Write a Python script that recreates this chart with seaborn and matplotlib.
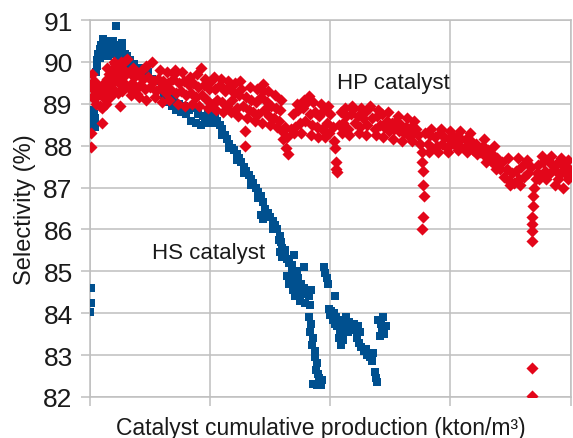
import matplotlib
matplotlib.use("Agg")
import matplotlib.pyplot as plt
import pandas as pd
import seaborn as sns

# HS catalyst (blue squares), x in grid units of cumulative production
hs_x = [0.00, 0.01, 0.01, 0.02, 0.02, 0.03, 0.03, 0.04, 0.04,
        0.05, 0.06, 0.06, 0.07, 0.08, 0.08, 0.09, 0.10, 0.11, 0.12, 0.13,
        0.14, 0.15, 0.16, 0.17, 0.18, 0.19, 0.20, 0.21, 0.22, 0.23, 0.24,
        0.25, 0.26, 0.27, 0.28, 0.29, 0.30, 0.31, 0.32, 0.33, 0.35, 0.37,
        0.39, 0.42, 0.45, 0.48, 0.52, 0.56, 0.60, 0.62, 0.64, 0.66, 0.68,
        0.70, 0.72, 0.74, 0.76, 0.78, 0.80, 0.82, 0.84, 0.86, 0.88, 0.90,
        0.92, 0.94, 0.96, 0.98, 1.00, 1.02, 1.04, 1.06, 1.08, 1.10, 1.12,
        1.14, 1.16, 1.18, 1.20, 1.22, 1.24, 1.26, 1.28, 1.30, 1.32, 1.34,
        1.36, 1.38, 1.40, 1.42, 1.44, 1.46, 1.48, 1.42, 1.44, 1.50, 1.52,
        1.54, 1.56, 1.58, 1.59, 1.60, 1.58, 1.62, 1.60, 1.62, 1.64, 1.66,
        1.68, 1.70, 1.72, 1.78, 1.64, 1.66, 1.68, 1.69, 1.70, 1.71, 1.72,
        1.73, 1.74, 1.75, 1.76, 1.77, 1.78, 1.79, 1.80, 1.82, 1.83, 1.84,
        1.82, 1.84, 1.83, 1.86, 1.85, 1.87, 1.87, 1.89, 1.88, 1.90, 1.91,
        1.93, 1.86, 1.89, 1.92, 1.95, 1.96, 1.97, 1.98, 2.04, 1.99, 2.00,
        2.01, 2.02, 2.03, 2.04, 2.05, 2.06, 2.07, 2.08, 2.09, 2.10, 2.10,
        2.12, 2.13, 2.14, 2.15, 2.16, 2.18, 2.20, 2.21, 2.23, 2.25, 2.07,
        2.09, 2.11, 2.22, 2.24, 2.26, 2.28, 2.30, 2.31, 2.33, 2.35, 2.36,
        2.37, 2.38, 2.39, 2.40, 2.42, 2.44, 2.43, 2.45, 2.46, 2.41,
        # second column of the falling stretch
        1.10, 1.16, 1.22, 1.28, 1.34, 1.40, 1.46, 1.52, 1.57, 0.11, 0.15,
        0.19, 0.23, 0.27]
hs_y = [84.02, 84.25, 84.60, 88.85, 88.60, 88.75, 88.50, 88.65, 88.45,
        89.75, 89.90, 90.05, 90.20, 90.10, 90.30, 90.40, 90.25, 90.45, 90.35, 90.20,
        90.30, 90.15, 90.35, 90.25, 90.40, 90.20, 90.30, 90.40, 90.85, 90.35, 90.20,
        90.30, 90.15, 90.30, 90.10, 90.20, 90.05, 90.15, 89.95, 90.05, 89.90, 89.95,
        89.80, 89.85, 89.70, 89.75, 89.60, 89.55, 89.40, 89.20, 89.05, 89.15, 88.95,
        89.10, 88.85, 89.00, 88.80, 88.95, 88.75, 88.85, 88.60, 88.90, 88.55, 88.75,
        88.50, 88.70, 88.55, 88.80, 88.65, 88.55, 88.75, 88.60, 88.50, 88.40, 88.25,
        88.15, 88.05, 87.95, 87.90, 87.80, 87.70, 87.60, 87.50, 87.40, 87.30, 87.20,
        87.10, 87.00, 86.90, 86.80, 86.65, 86.50, 86.40, 86.35, 86.25, 86.30, 86.20,
        86.10, 86.00, 85.85, 85.70, 85.55, 85.45, 85.40, 85.35, 85.50, 85.30, 85.20,
        85.15, 85.40, 85.00, 85.10, 84.90, 84.70, 84.95, 84.55, 84.80, 84.40, 84.65,
        84.85, 84.50, 84.30, 84.70, 84.45, 84.60, 84.25, 84.50, 84.40, 84.20, 84.55,
        83.90, 83.75, 83.55, 83.40, 83.25, 83.10, 82.95, 82.80, 82.65, 82.55, 82.45,
        82.40, 82.30, 82.28, 82.28, 85.10, 84.95, 84.85, 84.70, 84.40, 84.10, 83.95,
        84.05, 83.85, 84.00, 83.75, 83.90, 83.70, 83.85, 83.60, 83.75, 83.50, 83.85,
        83.65, 83.90, 83.70, 83.55, 83.80, 83.60, 83.75, 83.60, 83.70, 83.55, 83.40,
        83.25, 83.35, 83.40, 83.30, 83.20, 83.10, 83.15, 83.00, 82.95, 82.85, 83.05,
        82.60, 82.45, 82.35, 83.85, 83.75, 83.90, 83.60, 83.50, 83.70, 83.45,
        88.25, 87.95, 87.65, 87.35, 87.05, 86.75, 86.35, 86.00, 85.75, 90.55, 90.50,
        90.50, 90.05, 90.45]

# HP catalyst (red diamonds)
hp_x = [0.00, 0.01, 0.01, 0.02, 0.02, 0.03, 0.04, 0.05, 0.06, 0.07, 0.08, 0.09,
        0.10, 0.10, 0.11, 0.12, 0.13, 0.14, 0.15, 0.16, 0.17, 0.18, 0.19, 0.20,
        0.21, 0.22, 0.23, 0.23, 0.24, 0.25, 0.25, 0.26, 0.27, 0.28, 0.29, 0.30,
        0.31, 0.32, 0.34, 0.35, 0.37, 0.38, 0.39, 0.40, 0.42, 0.44, 0.46, 0.48,
        0.50, 0.52, 0.53, 0.55, 0.57, 0.59, 0.61, 0.63, 0.65, 0.67, 0.69, 0.71,
        0.72, 0.74, 0.76, 0.78, 0.80, 0.82, 0.84, 0.86, 0.88, 0.90, 0.92, 0.93,
        0.95, 0.97, 0.99, 1.01, 1.02, 1.04, 1.06, 1.08, 1.10, 1.12, 1.14, 1.16,
        1.18, 1.20, 1.22, 1.24, 1.26, 1.27, 1.29, 1.29, 1.30, 1.32, 1.34, 1.36,
        1.38, 1.40, 1.42, 1.44, 1.44, 1.45, 1.47, 1.49, 1.51, 1.53, 1.55, 1.57,
        1.58, 1.60, 1.61, 1.62, 1.63, 1.64, 1.65, 1.67, 1.69, 1.71, 1.73, 1.75,
        1.77, 1.79, 1.81, 1.82, 1.83, 1.85, 1.87, 1.89, 1.91, 1.93, 1.95, 1.97,
        1.99, 2.00, 2.02, 2.03, 2.04, 2.05, 2.05, 2.06, 2.07, 2.09, 2.11, 2.13,
        2.15, 2.17, 2.19, 2.21, 2.23, 2.25, 2.27, 2.29, 2.31, 2.33, 2.35, 2.37,
        2.39, 2.41, 2.43, 2.45, 2.47, 2.49, 2.51, 2.53, 2.55, 2.57, 2.59, 2.61,
        2.63, 2.65, 2.67, 2.69, 2.71, 2.73, 2.75, 2.76, 2.76, 2.77, 2.77, 2.78,
        2.77, 2.76, 2.79, 2.81, 2.83, 2.85, 2.87, 2.89, 2.91, 2.93, 2.95, 2.97,
        2.99, 3.01, 3.03, 3.05, 3.07, 3.09, 3.11, 3.13, 3.15, 3.17, 3.19, 3.21,
        3.23, 3.25, 3.27, 3.29, 3.31, 3.33, 3.35, 3.37, 3.39, 3.41, 3.43, 3.45,
        3.47, 3.49, 3.51, 3.53, 3.55, 3.57, 3.59, 3.61, 3.63, 3.65, 3.67, 3.71,
        3.70, 3.69, 3.69, 3.68, 3.68, 3.68, 3.68, 3.68, 3.68, 3.72, 3.73, 3.75,
        3.77, 3.79, 3.81, 3.83, 3.85, 3.87, 3.88, 3.90, 3.92, 3.94, 3.95, 3.97,
        3.99, 4.00,
        # upper and lower edges of the band
        0.14, 0.20, 0.28, 0.13, 0.17, 0.21, 0.27,
        0.36, 0.43, 0.47, 0.58, 0.64, 0.70, 0.77, 0.83, 0.89, 0.96,
        0.34, 0.41, 0.47, 0.54, 0.60, 0.66, 0.73, 0.79, 0.85, 0.91, 0.98,
        1.03, 1.09, 1.15, 1.21, 1.25, 1.33, 1.39, 1.48, 1.54, 1.59,
        1.05, 1.11, 1.17, 1.23, 1.31, 1.37, 1.43, 1.50, 1.56,
        1.72, 1.78, 1.86, 1.92, 1.98, 1.70, 1.76, 1.84, 1.90, 1.96,
        2.12, 2.18, 2.26, 2.32, 2.40, 2.48, 2.56, 2.64, 2.70,
        2.10, 2.16, 2.24, 2.30, 2.38, 2.44, 2.52, 2.60, 2.68,
        2.84, 2.92, 3.00, 3.08, 3.16, 2.82, 2.90, 2.98, 3.06, 3.14, 3.22,
        3.28, 3.36, 3.30, 3.38, 3.48, 3.56, 3.64, 3.50, 3.58,
        3.76, 3.84, 3.92, 3.98, 3.74, 3.80, 3.90, 3.98]
hp_y = [89.45, 88.30, 87.97, 89.70, 89.15, 89.55, 89.30, 89.00, 89.45, 89.20, 88.95, 89.35,
        88.90, 88.55, 89.15, 89.50, 89.25, 89.60, 89.35, 89.70, 89.45, 89.80, 89.55, 89.75,
        89.95, 89.60, 89.25, 89.85, 89.50, 88.95, 89.75, 90.00, 89.55, 89.80, 89.45, 89.70,
        90.07, 89.40, 89.75, 89.50, 89.65, 89.35, 89.23, 89.70, 89.45, 89.60, 89.35, 89.65,
        89.40, 90.00, 89.55, 89.30, 89.60, 89.40, 89.55, 89.25, 89.50, 89.35, 89.60, 89.80,
        89.25, 89.50, 89.30, 89.55, 89.20, 89.45, 89.25, 89.50, 89.15, 89.40, 89.86, 89.20,
        89.45, 89.10, 89.35, 89.55, 89.00, 89.35, 89.10, 89.45, 89.05, 89.30, 88.95, 89.40,
        89.10, 89.25, 88.90, 89.20, 89.35, 88.95, 88.35, 88.00, 89.15, 88.85, 89.10, 88.80,
        89.05, 88.75, 89.15, 89.47, 89.30, 88.85, 89.05, 88.70, 88.95, 88.65, 88.90, 88.60,
        88.85, 88.35, 88.15, 88.45, 87.95, 88.20, 87.80, 88.40, 88.75, 88.45, 88.85, 88.55,
        88.90, 88.60, 89.05, 89.19, 88.75, 88.50, 88.80, 88.45, 88.70, 88.40, 88.85, 88.55,
        88.30, 88.75, 88.45, 88.10, 87.95, 87.60, 87.45, 87.38, 88.50, 88.80, 88.55, 88.70,
        88.40, 88.75, 88.88, 88.55, 88.70, 88.45, 88.65, 88.80, 88.50, 88.95, 88.65, 88.40,
        88.70, 88.50, 88.75, 88.45, 88.60, 88.35, 88.55, 88.40, 88.60, 88.35, 88.50, 88.30,
        88.45, 88.25, 88.45, 88.30, 88.40, 88.25, 88.05, 87.85, 87.60, 87.40, 87.05, 86.80,
        86.30, 86.00, 88.30, 88.05, 88.25, 87.95, 88.20, 88.00, 88.30, 88.05, 88.20, 87.95,
        88.15, 88.25, 88.05, 88.20, 88.00, 88.15, 87.95, 88.15, 88.00, 88.10, 87.90, 88.05,
        87.95, 87.85, 88.00, 87.75, 87.90, 87.65, 87.80, 87.55, 87.70, 87.45, 87.60, 87.25,
        87.45, 87.15, 87.35, 87.10, 87.40, 87.20, 87.50, 87.25, 87.60, 87.35, 87.50, 87.20,
        87.00, 86.80, 86.56, 86.30, 86.13, 85.96, 85.73, 82.70, 82.03, 87.35, 87.55, 87.30,
        87.60, 87.40, 87.65, 87.35, 87.55, 87.05, 87.40, 87.60, 87.35, 87.00, 87.50, 87.30,
        87.45, 87.40,
        89.85, 90.00, 90.00, 89.00, 89.15, 89.30, 89.30,
        89.85, 89.80, 89.90, 89.80, 89.75, 89.70, 89.75, 89.65, 89.70, 89.60,
        89.20, 89.15, 89.10, 89.15, 89.05, 89.10, 89.00, 88.95, 89.00, 88.95, 88.90,
        89.65, 89.60, 89.55, 89.50, 89.55, 89.40, 89.35, 89.30, 89.20, 89.10,
        88.85, 88.80, 88.80, 88.70, 88.65, 88.60, 88.55, 88.50, 88.45,
        89.00, 89.10, 89.05, 89.00, 88.95, 88.30, 88.30, 88.25, 88.20, 88.20,
        88.90, 88.95, 88.90, 88.90, 88.85, 88.80, 88.70, 88.65, 88.60,
        88.30, 88.25, 88.30, 88.25, 88.25, 88.20, 88.15, 88.10, 88.10,
        88.40, 88.40, 88.35, 88.35, 88.30, 87.85, 87.85, 87.85, 87.90, 87.85, 87.80,
        88.15, 88.00, 87.60, 87.45, 87.70, 87.70, 87.65, 87.05, 87.05,
        87.75, 87.75, 87.70, 87.65, 87.20, 87.20, 87.20, 87.20]

y_ticks = [82, 83, 84, 85, 86, 87, 88, 89, 90, 91]
x_grid = [0, 1, 2, 3, 4]

BLUE = "#00508F"
RED = "#E3061A"
GRID = "#BFBFBF"
INK = "#1a1a1a"

hs = pd.DataFrame({"x": hs_x, "y": hs_y})
hp = pd.DataFrame({"x": hp_x, "y": hp_y})

sns.set_theme(style="white")
plt.rcParams["font.family"] = ["Liberation Sans", "DejaVu Sans"]

fig = plt.figure(figsize=(5.73, 4.39), dpi=100)
ax = fig.add_axes([90 / 573, 41 / 439, 480.5 / 573, 377 / 439])

sns.scatterplot(data=hs, x="x", y="y", marker="s", s=34, color=BLUE,
                linewidth=0, ax=ax, zorder=3)
sns.scatterplot(data=hp, x="x", y="y", marker="D", s=38, color=RED,
                linewidth=0, ax=ax, zorder=4)

ax.set_xlim(0, 4)
ax.set_ylim(82, 91)
ax.set_xticks(x_grid)
ax.set_xticklabels([])
ax.set_yticks(y_ticks)
ax.grid(True, color=GRID, linewidth=1.1)
ax.set_axisbelow(True)
for sp in ax.spines.values():
    sp.set_color(GRID)
    sp.set_linewidth(1.1)
ax.tick_params(axis="both", which="major", left=True, bottom=True,
               direction="out", length=6.5, width=1.1, color=GRID,
               labelsize=19, pad=6, labelcolor=INK)

ax.set_xlabel("Catalyst cumulative production (kton/m³)", fontsize=16.5, color=INK)
ax.xaxis.set_label_coords(0.481, -0.05)
ax.set_ylabel("Selectivity (%)", fontsize=17, color=INK)
ax.yaxis.set_label_coords(-0.113, 0.5)

ax.text(2.06, 89.5, "HP catalyst", fontsize=16, va="center", color=INK, zorder=5)
ax.text(0.52, 85.46, "HS catalyst", fontsize=16, va="center", color=INK, zorder=5)

fig.savefig("out.png", dpi=100)
